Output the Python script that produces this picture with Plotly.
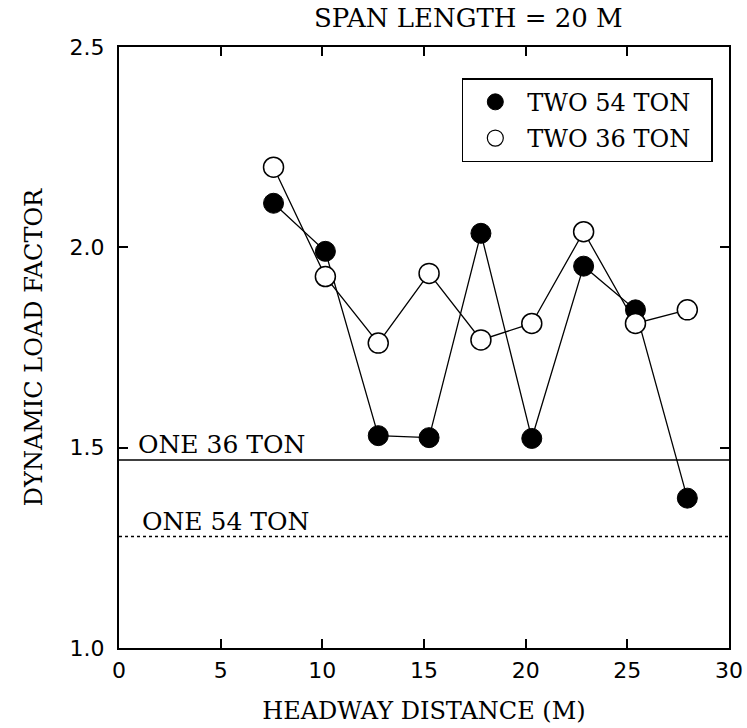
import plotly.graph_objects as go

# ---- data ----
headway = [7.6, 10.15, 12.75, 15.25, 17.8, 20.3, 22.85, 25.4, 27.95]
two_54_ton = [2.11, 1.99, 1.53, 1.525, 2.035, 1.523, 1.953, 1.844, 1.374]
two_36_ton = [2.20, 1.927, 1.761, 1.935, 1.769, 1.81, 2.039, 1.81, 1.844]
one_36_ton = 1.469
one_54_ton = 1.278
x_range = [0, 30]
y_range = [1.0, 2.5]
x_ticks = [0, 5, 10, 15, 20, 25, 30]
y_ticks = [1.0, 1.5, 2.0, 2.5]
legend_names = ["TWO 54 TON", "TWO 36 TON"]

SERIF = "DejaVu Serif, serif"
SANS = "DejaVu Sans, sans-serif"
PAD = "\u00a0\u00a0"

fig = go.Figure()

# reference lines (single trucks)
fig.add_trace(go.Scatter(x=x_range, y=[one_36_ton, one_36_ton], mode="lines",
                         line=dict(color="black", width=1.5), showlegend=False,
                         hoverinfo="skip"))
fig.add_trace(go.Scatter(x=x_range, y=[one_54_ton, one_54_ton], mode="lines",
                         line=dict(color="black", width=1.5, dash="dot"),
                         showlegend=False, hoverinfo="skip"))

# data series
fig.add_trace(go.Scatter(x=headway, y=two_54_ton, mode="lines+markers",
                         line=dict(color="black", width=1.3),
                         marker=dict(size=20, color="black",
                                     line=dict(color="black", width=1)),
                         showlegend=False))
fig.add_trace(go.Scatter(x=headway, y=two_36_ton, mode="lines+markers",
                         line=dict(color="black", width=1.3),
                         marker=dict(size=20, color="white",
                                     line=dict(color="black", width=1.5)),
                         showlegend=False))

# legend-only entries (markers without lines)
fig.add_trace(go.Scatter(x=[None], y=[None], mode="markers", name=legend_names[0] + PAD,
                         legendgroup="a",
                         marker=dict(size=17, color="black",
                                     line=dict(color="black", width=1))))
fig.add_trace(go.Scatter(x=[None], y=[None], mode="markers", name=legend_names[1] + PAD,
                         legendgroup="b",
                         marker=dict(size=17, color="white",
                                     line=dict(color="black", width=1.2))))

fig.add_annotation(x=0.9, y=one_36_ton, xref="x", yref="y", text="ONE 36 TON",
                   showarrow=False, xanchor="left", yanchor="bottom",
                   font=dict(family=SERIF, size=25, color="black"), borderpad=0)
fig.add_annotation(x=1.1, y=one_54_ton, xref="x", yref="y", text="ONE 54 TON",
                   showarrow=False, xanchor="left", yanchor="bottom",
                   font=dict(family=SERIF, size=25, color="black"), borderpad=0)

axis_common = dict(showline=True, linecolor="black", linewidth=2, mirror="ticks",
                   ticks="inside", ticklen=9, tickwidth=1.5, tickcolor="black",
                   showgrid=False, zeroline=False, automargin=False,
                   tickfont=dict(family=SANS, size=22, color="black"))

fig.update_xaxes(range=x_range, tickvals=x_ticks, ticktext=[str(v) for v in x_ticks],
                 ticklabelstandoff=2,
                 title=dict(text="HEADWAY DISTANCE (M)", standoff=20,
                            font=dict(family=SERIF, size=24, color="black")),
                 **axis_common)
fig.update_yaxes(range=y_range, tickvals=y_ticks, ticktext=[f"{v:.1f}" for v in y_ticks],
                 ticklabelstandoff=8,
                 title=dict(text="DYNAMIC LOAD FACTOR", standoff=20,
                            font=dict(family=SERIF, size=24, color="black")),
                 **axis_common)

fig.update_layout(
    width=747, height=728,
    margin=dict(l=119, r=18, t=47, b=80),
    paper_bgcolor="white", plot_bgcolor="white",
    title=dict(text="SPAN LENGTH = 20 M", x=0.627, xanchor="center",
               y=0.988, yanchor="top",
               font=dict(family=SERIF, size=26, color="black")),
    legend=dict(x=0.562, y=0.948, xanchor="left", yanchor="top",
                bgcolor="white", bordercolor="black", borderwidth=1.5,
                font=dict(family=SERIF, size=24, color="black"),
                tracegroupgap=2, traceorder="grouped", itemsizing="trace",
                itemwidth=54),
    showlegend=True,
)

fig.write_html("out.html")
